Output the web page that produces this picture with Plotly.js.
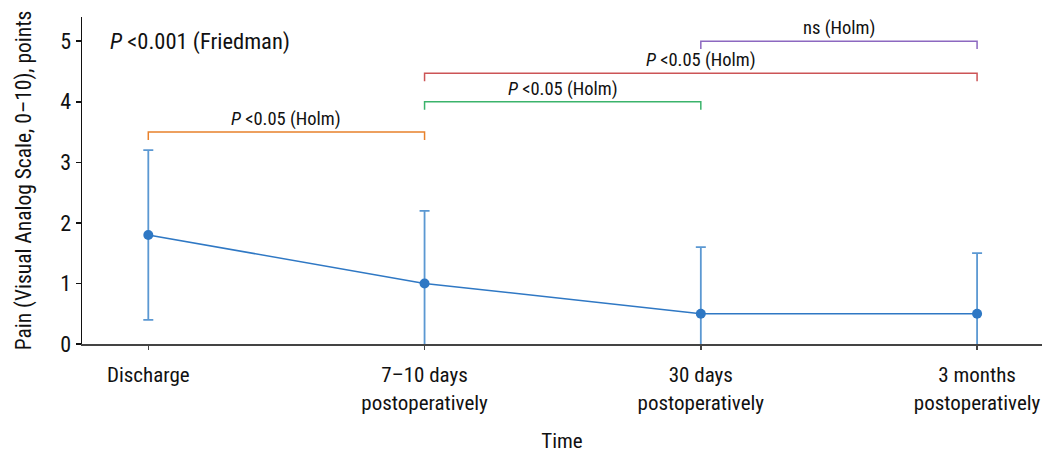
<!DOCTYPE html>
<html>
<head>
<meta charset="utf-8">
<script src="https://cdn.plot.ly/plotly-3.0.1.min.js"></script>
<style>html,body{margin:0;padding:0;background:#fff;}#chart{width:1055px;height:454px;}</style>
</head>
<body>
<div id="chart"></div>
<script>
// Data
const timepoints = ["Discharge", "7–10 days<br>postoperatively", "30 days<br>postoperatively", "3 months<br>postoperatively"];
const painMean = [1.8, 1.0, 0.5, 0.5];
const painSD = [1.4, 1.2, 1.1, 1.0];

// Pairwise comparisons (from index, to index, bracket level, label, colour)
const cmpFrom = [0, 1, 1, 2];
const cmpTo = [1, 2, 3, 3];
const cmpLevel = [3.5, 4.0, 4.47, 5.0];
const cmpLabel = ["<i>P</i> &lt;0.05 (Holm)", "<i>P</i> &lt;0.05 (Holm)", "<i>P</i> &lt;0.05 (Holm)", "ns (Holm)"];
const cmpColor = ["#e8812b", "#3bb36b", "#cc5456", "#8c68c0"];
const overallLabel = "<i>P</i> &lt;0.001 (Friedman)";

const FONT = "'Liberation Sans Narrow', 'Roboto Condensed', 'Arial Narrow', Roboto, sans-serif";

const trace = {
  x: timepoints,
  y: painMean,
  type: "scatter",
  mode: "lines+markers",
  line: {color: "#2f78c4", width: 1.5},
  marker: {color: "#2f78c4", size: 10},
  error_y: {type: "data", array: painSD, visible: true, color: "#5b98d2", thickness: 1.8, width: 5},
  cliponaxis: true,
  showlegend: false,
  hoverinfo: "skip"
};

const shapes = [];
const annotations = [];
const tick = 0.13;
for (let i = 0; i < cmpFrom.length; i++) {
  const a = cmpFrom[i], b = cmpTo[i], yv = cmpLevel[i];
  shapes.push({
    type: "path", xref: "x", yref: "y",
    path: `M ${a},${yv - tick} L ${a},${yv} L ${b},${yv} L ${b},${yv - tick}`,
    line: {color: cmpColor[i], width: 1.5}
  });
  annotations.push({
    x: (a + b) / 2, y: yv, xref: "x", yref: "y",
    text: cmpLabel[i], showarrow: false, yanchor: "bottom", yshift: 0,
    font: {family: FONT, size: 18.5, color: "#111"}
  });
}
annotations.push({
  x: 0.027, y: 5.0, xref: "paper", yref: "y", xanchor: "left", yanchor: "middle",
  text: overallLabel, showarrow: false,
  font: {family: FONT, size: 22.5, color: "#111"}
});

const layout = {
  width: 1055, height: 454,
  margin: {l: 82, r: 13, t: 17, b: 110},
  paper_bgcolor: "#fff", plot_bgcolor: "#fff",
  font: {family: FONT, color: "#111", size: 20},
  xaxis: {
    range: [-0.24, 3.235],
    showgrid: false, zeroline: false,
    showline: true, linecolor: "#444", linewidth: 2,
    ticks: "outside", ticklen: 4, tickcolor: "#444", tickwidth: 1.5,
    tickfont: {family: FONT, size: 21, color: "#111"},
    ticklabelstandoff: 7,
    title: {text: "Time", font: {family: FONT, size: 21, color: "#111"}, standoff: 20}
  },
  yaxis: {
    range: [0, 5.4],
    tickvals: [0, 1, 2, 3, 4, 5],
    showgrid: false, zeroline: false,
    showline: true, linecolor: "#111", linewidth: 1.5,
    ticks: "outside", ticklen: 5, tickcolor: "#111", tickwidth: 1.5,
    tickfont: {family: FONT, size: 22, color: "#111"},
    title: {text: "Pain (Visual Analog Scale, 0–10), points", font: {family: FONT, size: 21.5, color: "#111"}, standoff: 22}
  },
  shapes: shapes,
  annotations: annotations
};

Plotly.newPlot("chart", [trace], layout, {displayModeBar: false, staticPlot: true});
</script>
</body>
</html>
